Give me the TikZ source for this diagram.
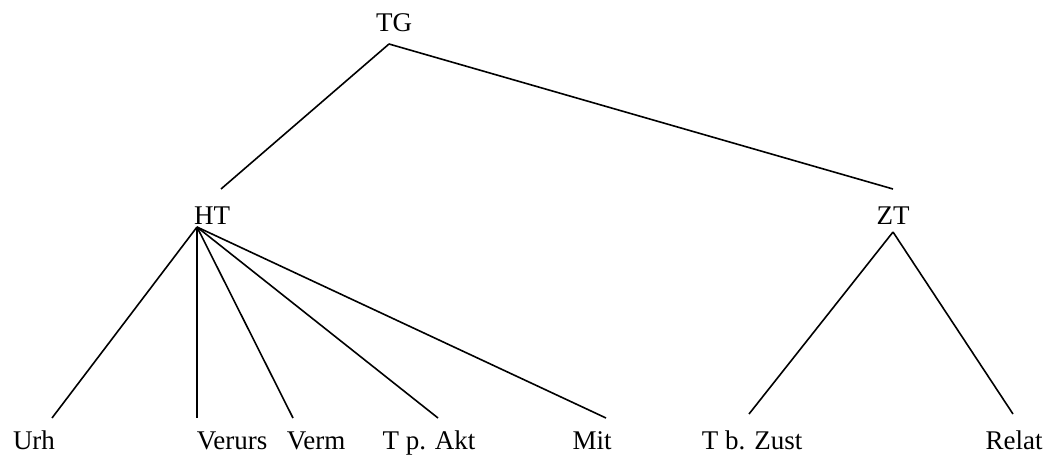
\documentclass[tikz,border=0pt]{standalone}
\usepackage{fontspec}
\setmainfont{Liberation Serif}
\begin{document}
\begin{tikzpicture}[x=1pt,y=-1pt,
  lbl/.style={anchor=base,inner sep=0pt,font=\fontsize{27}{31}\selectfont},
  edge/.style={line width=1.6pt,black}]
\useasboundingbox (0,0) rectangle (1048,455);
% labels
\node[lbl] (TG) at (394,31) {TG};
\node[lbl] (HT) at (212,224) {HT};
\node[lbl] (ZT) at (893,224) {ZT};
\node[lbl] (Urh) at (34,449) {Urh};
\node[lbl] (Verurs) at (232,449) {Verurs};
\node[lbl] (Verm) at (316,449) {Verm};
\node[lbl] (TpAkt) at (429,449) {T p. Akt};
\node[lbl] (Mit) at (592,449) {Mit};
\node[lbl] (TbZust) at (752,449) {T b. Zust};
\node[lbl] (Relat) at (1014,449) {Relat};
% connector ends
\coordinate (TGb) at (389,44);
\coordinate (HTt) at (221,189);
\coordinate (HTb) at (197,227);
\coordinate (ZTt) at (893,189);
\coordinate (ZTb) at (893,232);
\coordinate (Urht) at (52,418);
\coordinate (Verurst) at (197,418);
\coordinate (Vermt) at (293,418);
\coordinate (TpAktt) at (438,418);
\coordinate (Mitt) at (606,418);
\coordinate (TbZustt) at (749,414);
\coordinate (Relatt) at (1013,414);
% connectors
\draw[edge] (TGb) -- (HTt);
\draw[edge] (TGb) -- (ZTt);
\draw[edge] (HTb) -- (Urht);
\draw[edge] (HTb) -- (Verurst);
\draw[edge] (HTb) -- (Vermt);
\draw[edge] (HTb) -- (TpAktt);
\draw[edge] (HTb) -- (Mitt);
\draw[edge] (ZTb) -- (TbZustt);
\draw[edge] (ZTb) -- (Relatt);
\end{tikzpicture}
\end{document}
